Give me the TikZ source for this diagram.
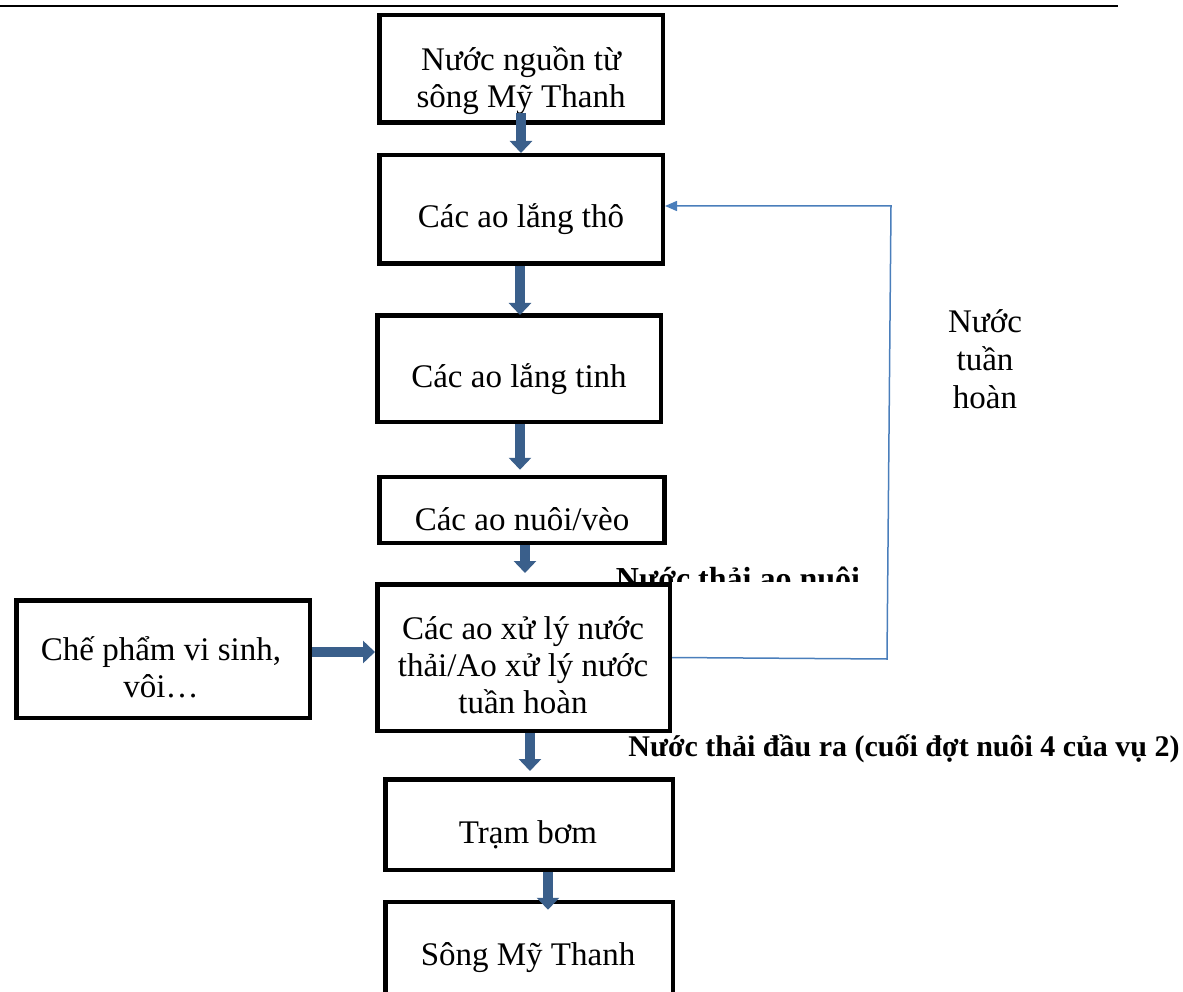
\documentclass[tikz,border=0pt]{standalone}
\usepackage{fontspec}
\setmainfont{Liberation Serif}
\usetikzlibrary{arrows.meta,positioning}
\definecolor{flowblue}{RGB}{58,95,139}
\definecolor{loopblue}{RGB}{74,126,187}

\begin{document}
\begin{tikzpicture}[x=1pt, y=-1pt,
  stage/.style={rectangle, draw, line width=4.5pt, inner sep=0pt},
  txt/.style={anchor=base, align=center, inner sep=0pt,
              font=\fontsize{33}{37}\selectfont},
  note/.style={anchor=base, inner sep=0pt,
               font=\bfseries\fontsize{32}{36}\selectfont},
  flow/.style={flowblue, line width=10pt,
               -{Triangle[length=12pt, width=22pt]}},
  back/.style={loopblue, line width=1.5pt,
               -{Triangle[length=12pt, width=10pt]}}
]
\useasboundingbox (0,0) rectangle (1183,992);

% Page header rule
\coordinate (ruleL) at (0,6);
\coordinate (ruleR) at (1118,6);
\draw[line width=2pt] (ruleL) -- (ruleR);

% Stages
\node[stage, minimum width=283.5pt, minimum height=107.5pt] (source) at (521,69) {};
\node[stage, minimum width=283.5pt, minimum height=108.5pt] (coarse) at (521,209.5) {};
\node[stage, minimum width=283.5pt, minimum height=106.5pt] (fine) at (519,368.5) {};
\node[stage, minimum width=285pt, minimum height=66pt] (grow) at (522,510) {};
\node[stage, minimum width=292.5pt, minimum height=146.5pt] (treat) at (523.5,657.5) {};
\node[stage, minimum width=293.5pt, minimum height=117.5pt] (probio) at (163,659) {};
\node[stage, minimum width=287.5pt, minimum height=90.5pt] (pump) at (529,824.5) {};
\node[stage, minimum width=287.5pt, minimum height=120pt] (river) at (529,962) {};

% Texts (base = last line)
\node[txt] (sourcetxt) at (521,108) {Nước nguồn từ\\sông Mỹ Thanh};
\node[txt] (coarsetxt) at (521,228) {Các ao lắng thô};
\node[txt] (finetxt) at (519,387) {Các ao lắng tinh};
\node[txt] (growtxt) at (522,530) {Các ao nuôi/vèo};
\node[txt] (treattxt) at (523,713) {Các ao xử lý nước\\thải/Ao xử lý nước\\tuần hoàn};
\node[txt] (probiotxt) at (161,697) {Chế phẩm vi sinh,\\vôi…};
\node[txt] (pumptxt) at (528,843) {Trạm bơm};
\node[txt] (rivertxt) at (528,965) {Sông Mỹ Thanh};
\node[txt, font=\fontsize{33}{38}\selectfont] (recirc) at (985,408) {Nước\\tuần\\hoàn};

% Labels
\begin{scope}
  \clip (600,540) rectangle (880,581);
  \node[note] (pondout) at (738,589) {Nước thải ao nuôi};
\end{scope}
\node[note, font=\bfseries\fontsize{30}{34}\selectfont] (outflow) at (904,756)
  {Nước thải đầu ra (cuối đợt nuôi 4 của vụ 2)};

% Flow arrows
\coordinate (sourceout) at ([yshift=12pt]source.south);
\coordinate (coarseout) at ([xshift=-1pt]coarse.south);
\coordinate (fineout) at ([xshift=1pt]fine.south);
\coordinate (growout) at ([xshift=3pt]grow.south);
\coordinate (treatout) at ([xshift=6.5pt]treat.south);
\coordinate (pumpout) at ([xshift=19pt]pump.south);
\coordinate (probioout) at ([yshift=7pt]probio.east);
\draw[flow] (sourceout) -- (sourceout |- coarse.north);
\draw[flow, shorten >=-2pt] (coarseout) -- (coarseout |- fine.north);
\draw[flow, shorten >=5pt] (fineout) -- (fineout |- grow.north);
\draw[flow, shorten >=9pt] (growout) -- (growout |- treat.north);
\draw[flow, shorten >=6pt] (treatout) -- (treatout |- pump.north);
\draw[flow, shorten >=-10pt] (pumpout) -- (pumpout |- river.north);
\draw[flow] (probioout) -- (probioout -| treat.west);

% Recirculation
\coordinate (retlow) at (887,659);
\coordinate (rethigh) at (891,206);
\draw[back] (treat.east) -- (retlow) -- (rethigh) -- (rethigh -| coarse.east);
\end{tikzpicture}
\end{document}
